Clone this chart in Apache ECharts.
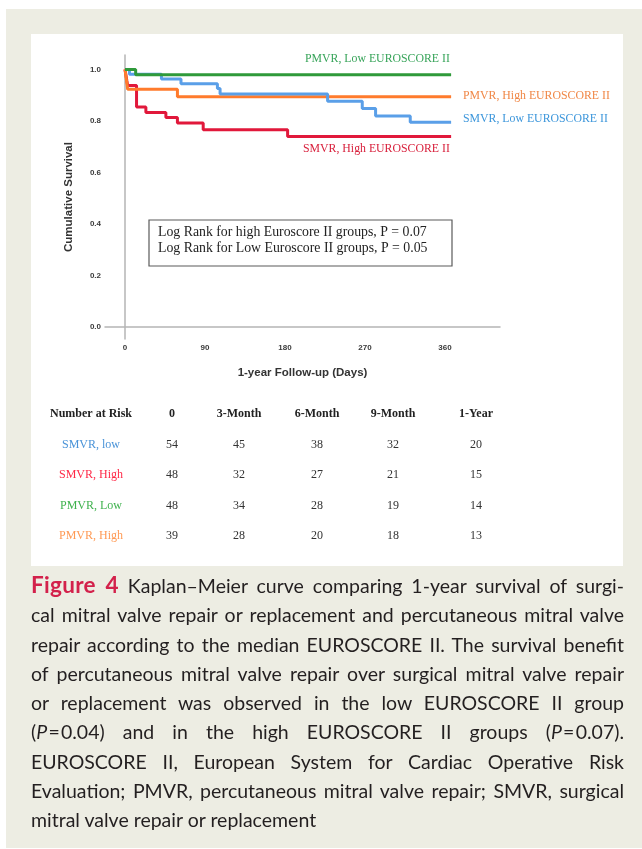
<!DOCTYPE html>
<html>
<head>
<meta charset="utf-8">
<script src="https://cdn.jsdelivr.net/npm/echarts@6/dist/echarts.min.js"></script>
<style>
  html, body { margin: 0; padding: 0; background: #ffffff; }
  #page { position: relative; width: 642px; height: 849px; overflow: hidden; }
  #beige { position: absolute; left: 6px; top: 9px; width: 636px; height: 839px; background: #edede3; }
  #panel { position: absolute; left: 31px; top: 34px; width: 592px; height: 532px; background: #ffffff; }
  #chart { position: absolute; left: 0; top: 0; width: 642px; height: 580px; }
  #caption { position: absolute; left: 31px; top: 570px; width: 593px; font-family: Lato, "Open Sans", sans-serif; font-size: 19.5px; line-height: 29.3px; color: #231f20; }
  #caption .l { text-align: justify; text-align-last: justify; white-space: nowrap; }
  #caption .last { text-align: left; text-align-last: left; }
  #caption .fig { color: #d3214b; font-weight: 700; font-size: 22.5px; letter-spacing: 0.3px; }
</style>
</head>
<body>
<div id="page">
  <div id="beige"></div>
  <div id="panel"></div>
  <div id="chart"></div>
  <div id="caption">
    <div class="l"><span class="fig">Figure 4</span> Kaplan–Meier curve comparing 1-year survival of surgi-</div>
    <div class="l">cal mitral valve repair or replacement and percutaneous mitral valve</div>
    <div class="l">repair according to the median EUROSCORE II. The survival benefit</div>
    <div class="l">of percutaneous mitral valve repair over surgical mitral valve repair</div>
    <div class="l">or replacement was observed in the low EUROSCORE II group</div>
    <div class="l">(<i>P</i>&#8202;=&#8202;0.04) and in the high EUROSCORE II groups (<i>P</i>&#8202;=&#8202;0.07).</div>
    <div class="l">EUROSCORE II, European System for Cardiac Operative Risk</div>
    <div class="l">Evaluation; PMVR, percutaneous mitral valve repair; SMVR, surgical</div>
    <div class="l last">mitral valve repair or replacement</div>
  </div>
</div>
<script>
// ---- data ----
const xTicks = [0, 90, 180, 270, 360];
const yTicks = [0, 0.2, 0.4, 0.6, 0.8, 1.0];

const seriesNames = ['SMVR, High EUROSCORE II', 'PMVR, High EUROSCORE II', 'SMVR, Low EUROSCORE II', 'PMVR, Low EUROSCORE II'];
// [day, cumulative survival after event]
const smvrHigh = [[0, 1], [1, 0.979], [2, 0.958], [3, 0.938], [13, 0.854], [23.5, 0.833], [46, 0.813], [59, 0.792], [88, 0.766], [183, 0.739], [367, 0.739]];
const pmvrHigh = [[0, 1], [1, 0.974], [2, 0.949], [3, 0.923], [59, 0.894], [367, 0.894]];
const smvrLow  = [[0, 1], [5, 0.981], [41, 0.963], [63, 0.944], [104, 0.926], [107, 0.905], [228, 0.876], [267, 0.848], [282, 0.819], [321, 0.795], [367, 0.795]];
const pmvrLow  = [[0, 1], [12, 0.979], [367, 0.979]];

const logRankLines = ['Log Rank for high Euroscore II groups, P = 0.07', 'Log Rank for Low Euroscore II groups, P = 0.05'];

const riskHeader = 'Number at Risk';
const riskTimes = ['0', '3-Month', '6-Month', '9-Month', '1-Year'];
const riskGroups = ['SMVR, low', 'SMVR, High', 'PMVR, Low', 'PMVR, High'];
const riskSMVRlow  = [54, 45, 38, 32, 20];
const riskSMVRhigh = [48, 32, 27, 21, 15];
const riskPMVRlow  = [48, 34, 28, 19, 14];
const riskPMVRhigh = [39, 28, 20, 18, 13];

// ---- styles / layout ----
const lineColors = ['#e1183b', '#ff7b2c', '#5a9fe8', '#2f9a3a'];
const labelColors = ['#d8203c', '#f08746', '#3c96db', '#38a45a'];
const riskColors = ['#4a93d8', '#ff2a48', '#3fb24e', '#ff9a55'];
const serif = '"Liberation Serif", "Times New Roman", serif';
const sans = '"Liberation Sans", Arial, sans-serif';

const curveLabelPos = [[303, 150], [463, 97], [463, 120], [305, 60]];
const riskColX = [91, 172, 239, 317, 393, 476];
const riskRowY = [414, 444.5, 475, 505.5, 536];

const chart = echarts.init(document.getElementById('chart'), null, { renderer: 'canvas' });

const curves = [smvrHigh, pmvrHigh, smvrLow, pmvrLow];
const series = curves.map((d, i) => ({
  name: seriesNames[i],
  type: 'line',
  step: 'end',
  data: d,
  symbol: 'none',
  lineStyle: { color: lineColors[i], width: 3 },
  z: 2 + i,
  silent: true,
  animation: false
}));

const graphics = [];
// curve labels
seriesNames.forEach((n, i) => {
  graphics.push({
    type: 'text', left: curveLabelPos[i][0], top: curveLabelPos[i][1] - 7,
    style: { text: n, fill: labelColors[i], font: '11.8px ' + serif }
  });
});
// log rank box
graphics.push({
  type: 'rect', shape: { x: 149, y: 220, width: 303, height: 46 },
  style: { fill: '#ffffff', stroke: '#5a5a5a', lineWidth: 1.2 }, z: 10
});
logRankLines.forEach((t, i) => {
  graphics.push({
    type: 'text', x: 158, y: 232.5 + i * 16, z: 11,
    style: { text: t, fill: '#222222', font: '13.8px ' + serif, textVerticalAlign: 'middle' }
  });
});
// risk table
graphics.push({
  type: 'text', x: riskColX[0], y: riskRowY[0],
  style: { text: riskHeader, fill: '#222222', font: 'bold 12px ' + serif, textAlign: 'center', textVerticalAlign: 'middle' }
});
riskTimes.forEach((t, j) => {
  graphics.push({
    type: 'text', x: riskColX[j + 1], y: riskRowY[0],
    style: { text: t, fill: '#222222', font: 'bold 12px ' + serif, textAlign: 'center', textVerticalAlign: 'middle' }
  });
});
const riskRows = [riskSMVRlow, riskSMVRhigh, riskPMVRlow, riskPMVRhigh];
riskGroups.forEach((g, i) => {
  graphics.push({
    type: 'text', x: riskColX[0], y: riskRowY[i + 1],
    style: { text: g, fill: riskColors[i], font: '12px ' + serif, textAlign: 'center', textVerticalAlign: 'middle' }
  });
  riskRows[i].forEach((v, j) => {
    graphics.push({
      type: 'text', x: riskColX[j + 1], y: riskRowY[i + 1],
      style: { text: String(v), fill: '#333333', font: '12px ' + serif, textAlign: 'center', textVerticalAlign: 'middle' }
    });
  });
});

chart.setOption({
  animation: false,
  backgroundColor: 'transparent',
  grid: { left: 105, top: 55, width: 395, height: 284, containLabel: false },
  xAxis: {
    type: 'value', min: -22.5, max: 422,
    name: '1-year Follow-up (Days)', nameLocation: 'middle', nameGap: 28,
    nameTextStyle: { fontFamily: sans, fontWeight: 'bold', fontSize: 11.5, color: '#333333' },
    axisLine: { show: true, lineStyle: { color: '#b5b5b5', width: 1.5 } },
    axisTick: { show: false },
    splitLine: { show: false },
    axisLabel: { customValues: xTicks, margin: 5, fontFamily: sans, fontWeight: 'bold', fontSize: 8, color: '#3a3a3a', formatter: v => String(v) }
  },
  yAxis: {
    type: 'value', min: -0.047, max: 1.056,
    name: 'Cumulative Survival', nameLocation: 'middle', nameGap: 30, nameRotate: 90,
    nameTextStyle: { fontFamily: sans, fontWeight: 'bold', fontSize: 11.5, color: '#333333' },
    axisLine: { show: true, lineStyle: { color: '#b5b5b5', width: 1.5 } },
    axisTick: { show: false },
    splitLine: { show: false },
    axisLabel: { customValues: yTicks, margin: 4, fontFamily: sans, fontWeight: 'bold', fontSize: 8, color: '#3a3a3a', formatter: v => v.toFixed(1) }
  },
  series: series,
  graphic: graphics
});
</script>
</body>
</html>
